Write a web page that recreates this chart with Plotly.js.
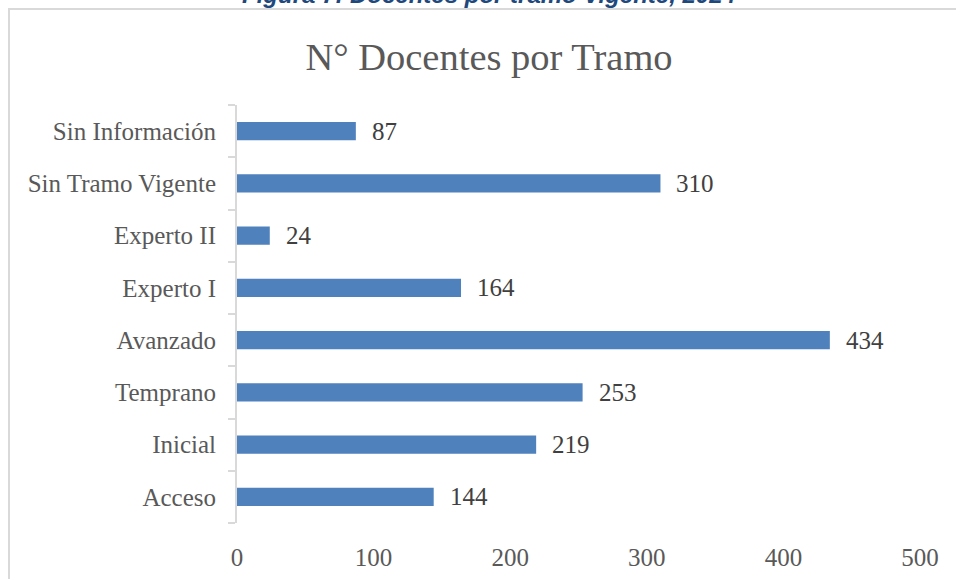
<!DOCTYPE html>
<html>
<head>
<meta charset="utf-8">
<script src="https://cdn.plot.ly/plotly-3.0.1.min.js"></script>
<style>html,body{margin:0;padding:0;background:#fff;}#chart{width:956px;height:579px;}</style>
</head>
<body>
<div id="chart"></div>
<script>
// Categories bottom-to-top as drawn by Plotly
const categories = ["Acceso", "Inicial", "Temprano", "Avanzado", "Experto I", "Experto II", "Sin Tramo Vigente", "Sin Información"];
const docentes = [144, 219, 253, 434, 164, 24, 310, 87];
const xTickValues = [0, 100, 200, 300, 400, 500];
const chartTitle = "N° Docentes por Tramo";
const caption = "Figura 7: Docentes por tramo Vigente, 2024";

const serif = "Liberation Serif, Times New Roman, serif";

const trace = {
  type: "bar",
  orientation: "h",
  x: docentes,
  y: categories,
  marker: {color: "#4f81bd"},
  hoverinfo: "x+y",
  showlegend: false
};

const labelAnnotations = categories.map((c, i) => ({
  x: docentes[i], y: c, xref: "x", yref: "y",
  text: String(docentes[i]),
  showarrow: false, xanchor: "left", yanchor: "middle", xshift: 14,
  font: {family: serif, size: 25, color: "#404040"}
}));

const layout = {
  width: 956, height: 579,
  margin: {l: 237, r: 36, t: 105, b: 56},
  paper_bgcolor: "#ffffff", plot_bgcolor: "#ffffff",
  bargap: 0.65,
  title: {
    text: chartTitle,
    xref: "container", x: 0.5115, xanchor: "center",
    yref: "container", y: 1 - 57/579, yanchor: "middle",
    font: {family: serif, size: 38.5, color: "#595959"}
  },
  xaxis: {
    range: [0, 500], tickvals: xTickValues, ticktext: xTickValues.map(String),
    showgrid: false, zeroline: false, showline: false, ticks: "",
    ticklabelstandoff: 17,
    tickfont: {family: serif, size: 25, color: "#595959"}
  },
  yaxis: {
    type: "category", categoryorder: "array", categoryarray: categories,
    range: [-0.5, categories.length - 0.5],
    showgrid: false, zeroline: false,
    showline: true, linecolor: "#d9d9d9", linewidth: 2,
    ticks: "outside", tickson: "boundaries", ticklen: 7, tickcolor: "#d9d9d9", tickwidth: 2,
    ticklabelstandoff: 14,
    tickfont: {family: serif, size: 25, color: "#595959"}
  },
  shapes: [{
    type: "rect", xref: "paper", yref: "paper",
    x0: (9 - 237) / 683, x1: 1.2,
    y0: -0.3, y1: (523 - 9) / 418,
    line: {color: "#d9d9d9", width: 2},
    fillcolor: "rgba(0,0,0,0)", layer: "below"
  }],
  annotations: labelAnnotations.concat([{
    xref: "paper", yref: "paper",
    x: (489 - 237) / 683, y: (523 + 6) / 418,
    xanchor: "center", yanchor: "middle",
    text: "<b><i>" + caption + "</i></b>", showarrow: false,
    font: {family: "Liberation Sans, Arial, sans-serif", size: 24, color: "#1f497d"}
  }])
};

Plotly.newPlot("chart", [trace], layout, {displayModeBar: false, staticPlot: true});
</script>
</body>
</html>
